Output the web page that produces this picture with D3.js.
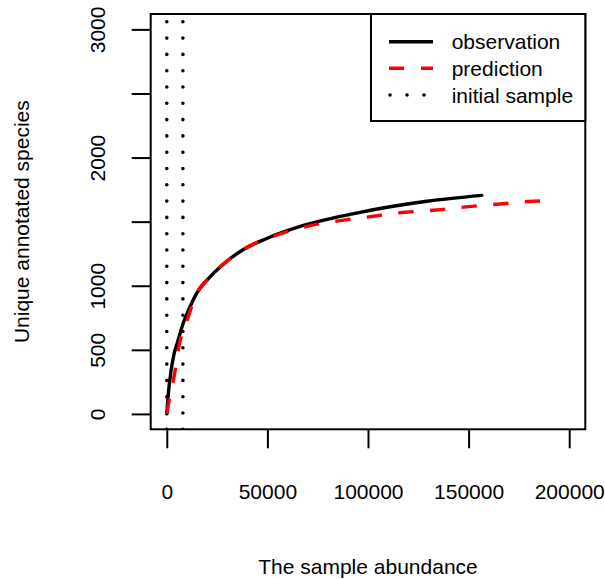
<!DOCTYPE html>
<html>
<head>
<meta charset="utf-8">
<script src="https://cdn.jsdelivr.net/npm/d3@7"></script>
<style>
  body { margin: 0; background: #fff; }
  text { font-family: "Liberation Sans", Arial, Helvetica, sans-serif; }
</style>
</head>
<body>
<div id="chart"></div>
<script>
// observed rarefaction curve
const obsX = [0, 900, 2140, 3630, 5120, 8100, 11580, 15060, 20680, 27340, 38070, 49700, 67890, 96070, 129230, 156560];
const obsY = [0, 182, 338, 470, 549, 705, 838, 947, 1056, 1158, 1283, 1369, 1470, 1573, 1659, 1705];

// predicted curve
const predX = [0, 1140, 3630, 6110, 10040, 15060, 20680, 27340, 38070, 49700, 56310, 71220, 86130, 102680, 118440, 134200, 149900, 165660, 182210, 185540];
const predY = [0, 104, 291, 533, 728, 947, 1056, 1158, 1283, 1369, 1404, 1469, 1508, 1542, 1573, 1591, 1617, 1638, 1659, 1661];

// initial sample markers
const initialX = [0, 8000];

const xTicks = [0, 50000, 100000, 150000, 200000];
const yTicks = [0, 500, 1000, 1500, 2000, 2500, 3000];
const yLabels = [0, 500, 1000, 2000, 3000];

const legendNames = ['observation', 'prediction', 'initial sample'];

const width = 605;
const height = 579;
const margin = { top: 14, right: 19.7, bottom: 149.7, left: 150.7 };
const fontSize = 21;

// R style 4% padding around the limits
const xlim = [0, 200000], ylim = [0, 3000];
const xpad = (xlim[1] - xlim[0]) * 0.04, ypad = (ylim[1] - ylim[0]) * 0.04;

const x = d3.scaleLinear()
  .domain([xlim[0] - xpad, xlim[1] + xpad])
  .range([margin.left, width - margin.right]);

const y = d3.scaleLinear()
  .domain([ylim[0] - ypad, ylim[1] + ypad])
  .range([height - margin.bottom, margin.top]);

const svg = d3.select('#chart')
  .append('svg')
  .attr('width', width)
  .attr('height', height);

svg.append('defs').append('clipPath')
  .attr('id', 'plotclip')
  .append('rect')
  .attr('x', margin.left)
  .attr('y', margin.top)
  .attr('width', width - margin.right - margin.left)
  .attr('height', height - margin.bottom - margin.top);

const plot = svg.append('g').attr('clip-path', 'url(#plotclip)');

// dotted verticals
plot.selectAll('line.init')
  .data(initialX)
  .enter()
  .append('line')
  .attr('class', 'init')
  .attr('x1', d => x(d))
  .attr('x2', d => x(d))
  .attr('y1', height - margin.bottom)
  .attr('y2', margin.top)
  .attr('stroke', '#000')
  .attr('stroke-width', 3.6)
  .attr('stroke-linecap', 'round')
  .attr('stroke-dasharray', '0 16.3');

const line = d3.line()
  .x(d => x(d[0]))
  .y(d => y(d[1]))
  .curve(d3.curveMonotoneX);

plot.append('path')
  .datum(obsX.map((v, i) => [v, obsY[i]]))
  .attr('d', line)
  .attr('fill', 'none')
  .attr('stroke', '#000')
  .attr('stroke-width', 3.4)
  .attr('stroke-linecap', 'round');

const pred = plot.append('path')
  .datum(predX.map((v, i) => [v, predY[i]]))
  .attr('d', line)
  .attr('fill', 'none')
  .attr('stroke', '#ff0000')
  .attr('stroke-width', 3.4);

// stretch the dash pattern a little so the path ends on a dash, like R does
const L = pred.node().getTotalLength();
const dash = 15, gap = 16;
const n = Math.round((L - dash) / (dash + gap));
const s = L / (n * (dash + gap) + dash);
pred.attr('stroke-dasharray', `${dash * s} ${gap * s}`);

// axes
const xAxis = svg.append('g')
  .attr('transform', `translate(0, ${height - margin.bottom})`)
  .call(d3.axisBottom(x).tickValues(xTicks).tickSize(19).tickFormat(d3.format('d')));
xAxis.select('.domain').remove();
xAxis.selectAll('line').attr('stroke-width', 2);
xAxis.selectAll('text')
  .attr('y', 69.7)
  .attr('dy', 0)
  .attr('font-size', fontSize)
  .attr('fill', '#000');

const yAxis = svg.append('g')
  .attr('transform', `translate(${margin.left}, 0)`)
  .call(d3.axisLeft(y).tickValues(yTicks).tickSize(19)
    .tickFormat(d => yLabels.includes(d) ? d3.format('d')(d) : ''));
yAxis.select('.domain').remove();
yAxis.selectAll('line').attr('stroke-width', 2);
yAxis.selectAll('text')
  .attr('x', 0)
  .attr('dy', 0)
  .attr('transform', 'translate(-45.7,0) rotate(-90)')
  .attr('text-anchor', 'middle')
  .attr('font-size', fontSize)
  .attr('fill', '#000');

// box
svg.append('rect')
  .attr('x', margin.left)
  .attr('y', margin.top)
  .attr('width', width - margin.right - margin.left)
  .attr('height', height - margin.bottom - margin.top)
  .attr('fill', 'none')
  .attr('stroke', '#000')
  .attr('stroke-width', 2);

// axis titles
svg.append('text')
  .attr('x', (margin.left + width - margin.right) / 2)
  .attr('y', 574)
  .attr('text-anchor', 'middle')
  .attr('font-size', fontSize)
  .text('The sample abundance');

svg.append('text')
  .attr('transform', `translate(29, ${(margin.top + height - margin.bottom) / 2}) rotate(-90)`)
  .attr('text-anchor', 'middle')
  .attr('font-size', fontSize)
  .text('Unique annotated species');

// legend
const legend = svg.append('g');
legend.append('rect')
  .attr('x', 371)
  .attr('y', margin.top)
  .attr('width', width - margin.right - 371)
  .attr('height', 107)
  .attr('fill', '#fff')
  .attr('stroke', '#000')
  .attr('stroke-width', 2);

const legendStyles = [
  { color: '#000', dash: null, cap: 'butt', w: 3.4 },
  { color: '#ff0000', dash: '15 17', cap: 'butt', w: 3.4 },
  { color: '#000', dash: '0 17', cap: 'round', w: 3.6 }
];
const rowY = [41.7, 68.3, 95];

const rows = legend.selectAll('g.row')
  .data(legendNames)
  .enter()
  .append('g')
  .attr('class', 'row')
  .attr('transform', (d, i) => `translate(0, ${rowY[i]})`);

rows.append('line')
  .attr('x1', (d, i) => i === 2 ? 390 : 389)
  .attr('x2', 433)
  .attr('stroke', (d, i) => legendStyles[i].color)
  .attr('stroke-width', (d, i) => legendStyles[i].w)
  .attr('stroke-linecap', (d, i) => legendStyles[i].cap)
  .attr('stroke-dasharray', (d, i) => legendStyles[i].dash);

rows.append('text')
  .attr('x', 451.7)
  .attr('y', 7.5)
  .attr('font-size', fontSize)
  .text(d => d);
</script>
</body>
</html>
